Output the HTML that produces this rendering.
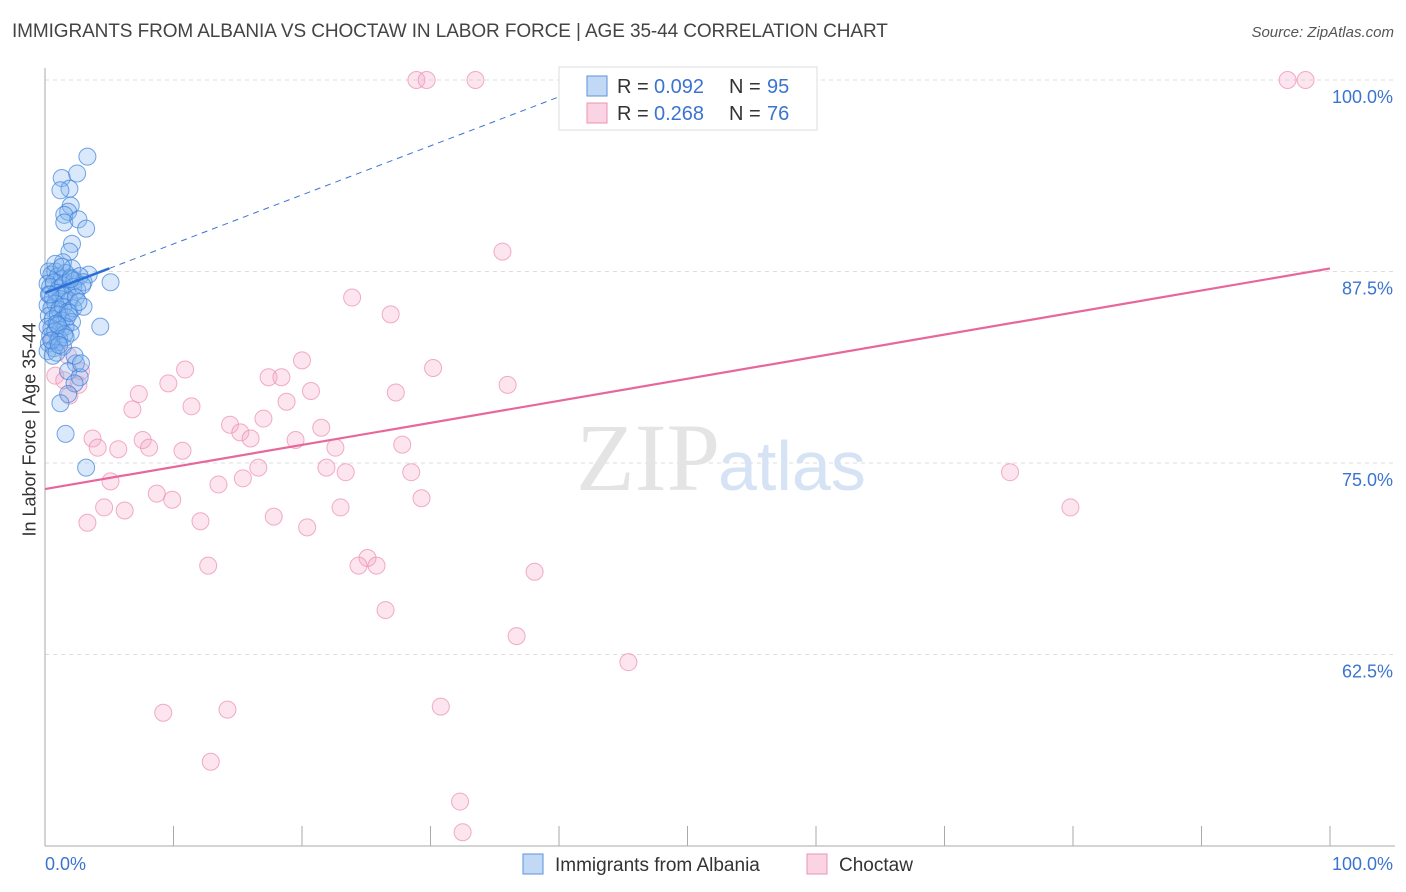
<!DOCTYPE html>
<html><head><meta charset="utf-8"><style>
body{margin:0;background:#fff;font-family:"Liberation Sans",sans-serif;}
#wrap{position:relative;width:1406px;height:892px;overflow:hidden;}
.t{position:absolute;white-space:nowrap;}
</style></head><body>
<div id="wrap">
<div class="t" style="left:12px;top:21px;font-size:19px;color:#444;letter-spacing:-0.1px;">IMMIGRANTS FROM ALBANIA VS CHOCTAW IN LABOR FORCE | AGE 35-44 CORRELATION CHART</div>
<div class="t" style="right:12px;top:24px;font-size:15px;color:#555;font-style:italic;">Source: ZipAtlas.com</div>
<div class="t" style="left:-50px;top:446px;font-size:18px;color:#333;transform:rotate(-90deg);width:160px;text-align:center;">In Labor Force | Age 35-44</div>
<svg id="plot" width="1406" height="892" style="position:absolute;left:0;top:0"></svg>
</div>
<script>
const yTicks=[100,87.5,75,62.5];
const yTickLabels=["100.0%","87.5%","75.0%","62.5%"];
const xTickLabels=["0.0%","100.0%"];
const blueX=[3.3,2.5,1.3,1.9,1.2,2.0,1.8,1.5,1.5,2.6,3.2,2.1,1.9,1.4,2.1,3.4,5.1,4.3,2.4,1.8,2.7,2.3,1.8,1.2,1.6,3.2,
0.3,0.5,0.8,1.0,1.3,1.6,2.0,2.3,2.7,3.0,0.2,0.4,0.7,1.1,1.4,1.7,2.2,2.5,2.9,0.3,0.6,0.9,1.2,1.5,1.9,2.4,0.2,0.5,0.8,1.1,1.4,1.8,2.2,0.3,0.6,1.0,1.3,1.7,2.1,0.2,0.5,0.9,1.2,1.6,2.0,0.4,0.8,1.1,1.5,0.3,0.7,1.0,1.4,0.2,0.6,0.9,2.3,2.8,1.0,0.5,1.6,2.0,0.8,1.3,0.4,1.9,3.0,2.6,1.1];
const blueY=[95.0,93.9,93.6,92.9,92.8,91.8,91.4,91.2,90.7,90.9,90.3,89.3,88.8,88.1,87.7,87.3,86.8,83.9,81.5,81.0,80.6,80.2,79.5,78.9,76.9,74.7,
87.5,87.3,87.5,87.2,87.0,87.4,87.1,86.9,87.2,86.8,86.7,86.5,86.8,86.4,86.6,86.2,86.5,86.3,86.6,86.0,85.8,86.1,85.7,85.9,85.6,85.8,85.3,85.1,85.4,85.0,85.2,84.9,85.1,84.6,84.4,84.7,84.3,84.5,84.2,83.9,83.8,84.1,83.7,83.9,83.5,83.3,83.6,83.1,83.4,82.8,82.5,82.9,82.6,82.3,82.0,82.2,82.0,81.5,84.0,83.0,83.2,87.0,88.0,87.8,86.0,84.8,85.2,85.5,82.7];
const pinkX=[28.9,29.7,33.5,46.7,96.7,98.1,35.6,23.9,26.9,20.0,30.2,10.9,17.4,18.4,9.6,36.0,27.3,20.7,7.3,18.8,11.4,6.8,17.0,14.4,21.5,15.2,16.0,7.6,3.7,27.8,19.5,22.6,4.1,5.7,8.1,10.7,16.6,21.9,23.4,28.5,75.1,5.1,13.5,15.4,8.7,9.9,29.3,79.8,4.6,23.0,6.2,17.8,12.1,3.3,20.4,25.1,25.8,24.4,12.7,38.1,26.5,36.7,45.4,30.8,14.2,9.2,12.9,32.3,32.5,0.8,1.5,2.6,1.9,1.8,0.5,2.8];
const pinkY=[100,100,100,100,100,100,88.8,85.8,84.7,81.7,81.2,81.1,80.6,80.6,80.2,80.1,79.6,79.7,79.5,79.0,78.7,78.5,77.9,77.5,77.3,77.0,76.6,76.5,76.6,76.2,76.5,76.0,76.0,75.9,76.0,75.8,74.7,74.7,74.4,74.4,74.4,73.8,73.6,74.0,73.0,72.6,72.7,72.1,72.1,72.1,71.9,71.5,71.2,71.1,70.8,68.8,68.3,68.3,68.3,67.9,65.4,63.7,62.0,59.1,58.9,58.7,55.5,52.9,50.9,80.7,80.4,80.1,79.4,82.0,83.0,81.0];
const blueFit=[86.1,0.32];
const pinkFit=[73.3,0.144];
const X=v=>45+v*12.85, Y=v=>80+(100-v)*15.32;
const svg=document.getElementById('plot');
const NS='http://www.w3.org/2000/svg';
function mk(tag,at,parent){const e=document.createElementNS(NS,tag);for(const k in at)e.setAttribute(k,at[k]);(parent||svg).appendChild(e);return e;}
let e;
yTicks.forEach((v,i)=>{
 e=mk('line',{x1:45,x2:1395,y1:Y(v),y2:Y(v),stroke:'#ddd','stroke-dasharray':'4,4'});
 
 
 e=mk('text',{x:1393,y:Y(v)+23,'text-anchor':'end','font-size':18,fill:'#3b74d0','font-family':'Liberation Sans'});
 e.textContent=yTickLabels[i];
 
 
});
e=mk('line',{x1:45,x2:45,y1:68,y2:846,stroke:'#aaa'});
e=mk('line',{x1:45,x2:1395,y1:846,y2:846,stroke:'#aaa'});
for(let i=0;i<=10;i++){e=mk('line',{x1:X(i*10),x2:X(i*10),y1:826,y2:846,stroke:'#aaa'});}
[[0,'start',45],[1,'end',1393]].forEach(([i,a,x])=>{e=mk('text',{x:x,y:870,'text-anchor':a,'font-size':18,fill:'#3b74d0','font-family':'Liberation Sans'});e.textContent=xTickLabels[i];});
e=mk('text',{x:720,y:490,'text-anchor':'end','font-size':96,fill:'#e4e4e4','font-family':'Liberation Serif'});e.textContent='ZIP';
e=mk('text',{x:718,y:490,'font-size':70,fill:'#d5e3f5','font-family':'Liberation Sans'});e.textContent='atlas';
pinkX.forEach((x,i)=>{e=mk('circle',{cx:X(x),cy:Y(pinkY[i]),r:8.5,fill:'rgba(244,170,198,0.3)',stroke:'rgba(235,140,172,0.7)','stroke-width':1});});
blueX.forEach((x,i)=>{e=mk('circle',{cx:X(x),cy:Y(blueY[i]),r:8.5,fill:'rgba(130,178,238,0.3)',stroke:'rgba(60,128,218,0.7)','stroke-width':1});});
const bx1=(100-blueFit[0])/blueFit[1];
e=mk('line',{x1:X(5),y1:Y(blueFit[0]+5*blueFit[1]),x2:X(bx1),y2:Y(100),stroke:'#3b74d0','stroke-width':1,'stroke-dasharray':'6,5'});
e=mk('line',{x1:X(0),y1:Y(blueFit[0]),x2:X(5),y2:Y(blueFit[0]+5*blueFit[1]),stroke:'#2c6fd6','stroke-width':2.5});
e=mk('line',{x1:X(0),y1:Y(pinkFit[0]),x2:X(100),y2:Y(pinkFit[0]+100*pinkFit[1]),stroke:'#e8679a','stroke-width':2.2});
// legend
const lg=mk('g',{});
mk('rect',{x:559,y:67,width:258,height:63,fill:'#fff',stroke:'#ddd'},lg);
[[0,'rgba(120,170,235,0.45)','#5a92dc','0.092','95'],[1,'rgba(244,160,190,0.45)','#e895b3','0.268','76']].forEach(([i,f,s,r,n])=>{
 const y=86+i*27;
 e=mk('rect',{x:587,y:y-10,width:20,height:20,fill:f,stroke:s},lg);
 [[617,'R =','#333'],[654,r,'#3b74d0'],[729,'N =','#333'],[767,n,'#3b74d0']].forEach(([x,t,c])=>{
  e=mk('text',{x:x,y:y+7,'font-size':20,fill:c,'font-family':'Liberation Sans'},lg);
  e.textContent=t;
  
  
 });
});
// bottom legend
[[523,'rgba(120,170,235,0.45)','#5a92dc','Immigrants from Albania'],[807,'rgba(244,160,190,0.45)','#e895b3','Choctaw']].forEach(([x,f,s,t])=>{
 e=mk('rect',{x:x,y:854,width:20,height:20,fill:f,stroke:s});
 e=mk('text',{x:x+32,y:871,'font-size':19,fill:'#333','font-family':'Liberation Sans'});e.textContent=t;
});
</script>
</body></html>
